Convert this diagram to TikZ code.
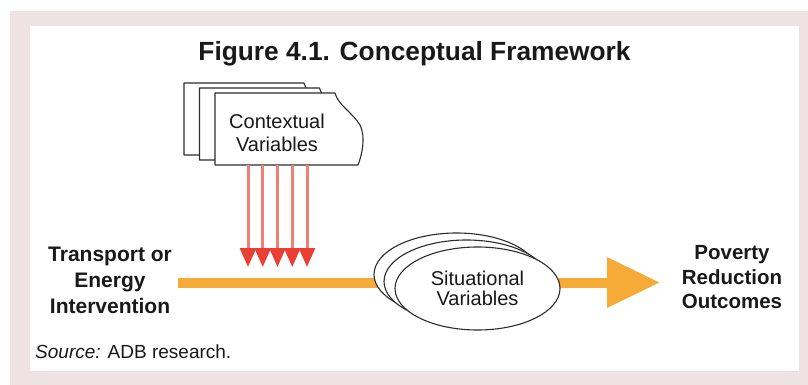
\documentclass[tikz,border=0pt]{standalone}
\usepackage{fontspec}
\setmainfont{Liberation Sans}
\usetikzlibrary{arrows.meta,shapes.geometric}
\definecolor{pinkbg}{RGB}{239,226,226}
\definecolor{barorange}{RGB}{246,170,56}
\definecolor{redline}{RGB}{238,128,116}
\definecolor{redhead}{RGB}{234,64,52}
\definecolor{outline}{RGB}{45,45,45}
\definecolor{txt}{RGB}{25,25,25}
\begin{document}
\begin{tikzpicture}[x=1pt,y=-1pt,
  sheet/.style={fill=white, draw=outline, line width=1.1pt, line join=round},
  redarrow/.style={draw=redline, line width=3pt, -{Triangle[width=16pt,length=19pt,color=redhead]}},
  orangebar/.style={draw=barorange, line width=10pt, -{Triangle[width=48pt,length=53pt,color=barorange]}},
  ell/.style={ellipse, draw=outline, fill=white, line width=1.1pt, minimum width=165pt, minimum height=83pt, inner sep=0pt},
  lbl/.style={align=center, text=txt, inner sep=0pt},
  boldlbl/.style={lbl, font=\bfseries\fontsize{21}{26}\selectfont}
]
\useasboundingbox (0,0) rectangle (808,385);
\fill[pinkbg] (10,11) rectangle (808,385);
\fill[white] (30,26) rectangle (799,371);

% title
\node[anchor=base, text=txt, inner sep=0pt, font=\bfseries\fontsize{26.3}{30}\selectfont] (title) at (414.5,61) {Figure 4.1. Conceptual Framework};

% contextual variables sheets
\foreach \dx/\dy in {-31/-10,-15.5/-5,0/0} {
  \draw[sheet, shift={(\dx,\dy)}] (215,93) -- (335,93)
    .. controls (338,105) and (352,112) .. (360,125)
    .. controls (366,137) and (362,155) .. (358,165) -- (215,165) -- cycle;
}
\node[lbl, font=\fontsize{20}{23}\selectfont] (ctx) at (277,132.5) {Contextual\\Variables};

% red arrows
\foreach \x [count=\i] in {248,262.75,277.5,292.25,307} {
  \coordinate (rs\i) at (\x,165);
  \coordinate (re\i) at (\x,267);
  \draw[redarrow] (rs\i) -- (re\i);
}

% side labels
\node[boldlbl] (trans) at (110,280.5) {Transport or\\Energy\\Intervention};
\node[lbl, font=\bfseries\fontsize{20.5}{24.5}\selectfont] (pov) at (732,277.5) {Poverty\\Reduction\\Outcomes};

% orange bar
\coordinate (barstart) at (178,282.5);
\coordinate (bartip) at (660,282.5);
\draw[orangebar] (barstart) -- (bartip);

% situational ellipses
\node[ell] (sit3) at (456.5,274.5) {};
\node[ell] (sit2) at (466.5,281.5) {};
\node[ell, align=center, text=txt, font=\fontsize{20}{20.5}\selectfont] (sit) at (477.5,288.5) {Situational\\Variables};

% source
\node[anchor=base west, inner sep=0pt, text=txt, font=\fontsize{19}{22}\selectfont] (src) at (35,358) {\textit{Source:} ADB research.};
\end{tikzpicture}
\end{document}
